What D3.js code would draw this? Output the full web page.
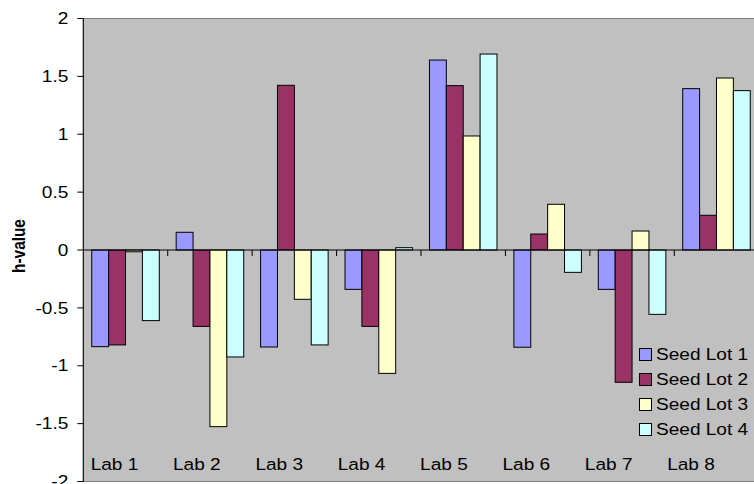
<!DOCTYPE html>
<html>
<head>
<meta charset="utf-8">
<script src="https://cdn.jsdelivr.net/npm/d3@7"></script>
<style>
  html, body { margin: 0; padding: 0; background: #fff; }
  svg { display: block; }
  text { font-family: 'Liberation Sans', Arial, sans-serif; fill: #000; }
</style>
</head>
<body>
<svg id="chart"></svg>
<script>
const labs = ['Lab 1', 'Lab 2', 'Lab 3', 'Lab 4', 'Lab 5', 'Lab 6', 'Lab 7', 'Lab 8']
const seriesNames = ['Seed Lot 1', 'Seed Lot 2', 'Seed Lot 3', 'Seed Lot 4']
const seedLot1 = [-0.835, 0.153, -0.838, -0.34, 1.641, -0.84, -0.34, 1.394]
const seedLot2 = [-0.82, -0.66, 1.423, -0.66, 1.42, 0.138, -1.143, 0.30]
const seedLot3 = [-0.015, -1.526, -0.426, -1.066, 0.985, 0.395, 0.164, 1.486]
const seedLot4 = [-0.61, -0.924, -0.82, 0.02, 1.693, -0.193, -0.556, 1.377]
const yTicks = [-2, -1.5, -1, -0.5, 0, 0.5, 1, 1.5, 2]
const colors = ['#9999FF', '#993366', '#FFFFCC', '#CCFFFF']

const W = 754, H = 484
const plot = { left: 83.3, right: 758.7, top: 18.5, bottom: 481.5 }
const stretch = 1.17   // the source picture was widened, text too
const fontSize = 16.3

const seriesValues = [seedLot1, seedLot2, seedLot3, seedLot4]
const rows = labs.map((lab, i) => ({
	lab,
	values: seriesNames.map((s, j) => ({ series: s, value: seriesValues[j][i], color: colors[j] }))
}))

const svg = d3.select('#chart').attr('width', W).attr('height', H)

const x0 = d3.scaleBand().domain(labs).range([plot.left, plot.right]).paddingInner(0).paddingOuter(0)
const x1 = d3.scaleBand().domain(seriesNames).range([0, x0.bandwidth()]).paddingInner(0).paddingOuter(0.5)
const y = d3.scaleLinear().domain([-2, 2]).range([plot.bottom, plot.top])
// the lab names are spread a little tighter than the groups
const xLabel = d3.scalePoint().domain(labs).range([114.5, 691])

// plot area
svg.append('rect')
	.attr('x', plot.left).attr('y', plot.top)
	.attr('width', plot.right - plot.left).attr('height', plot.bottom - plot.top)
	.attr('fill', '#C0C0C0')
	.attr('stroke', '#808080')
	.attr('stroke-width', 1)

// bars
const groups = svg.append('g').selectAll('g')
	.data(rows)
	.enter()
	.append('g')
	.attr('transform', d => `translate(${x0(d.lab)},0)`)

groups.selectAll('rect')
	.data(d => d.values)
	.enter()
	.append('rect')
	.attr('x', d => x1(d.series))
	.attr('y', d => y(Math.max(0, d.value)))
	.attr('width', x1.bandwidth())
	.attr('height', d => Math.abs(y(d.value) - y(0)))
	.attr('fill', d => d.color)
	.attr('stroke', '#000')
	.attr('stroke-width', 1)

// zero line with category ticks
svg.append('line')
	.attr('x1', plot.left).attr('x2', plot.right)
	.attr('y1', y(0)).attr('y2', y(0))
	.attr('stroke', '#000').attr('stroke-width', 1)

svg.append('g').selectAll('line')
	.data(labs.slice(1))
	.enter()
	.append('line')
	.attr('x1', d => x0(d)).attr('x2', d => x0(d))
	.attr('y1', y(0)).attr('y2', y(0) + 6)
	.attr('stroke', '#000').attr('stroke-width', 1)

// y axis
const yAxis = svg.append('g')
yAxis.append('line')
	.attr('x1', plot.left).attr('x2', plot.left)
	.attr('y1', plot.top).attr('y2', plot.bottom)
	.attr('stroke', '#000').attr('stroke-width', 1)

const ticks = yAxis.selectAll('g.tick')
	.data(yTicks)
	.enter()
	.append('g')
	.attr('class', 'tick')

ticks.append('line')
	.attr('x1', plot.left - 6).attr('x2', plot.left)
	.attr('y1', d => y(d)).attr('y2', d => y(d))
	.attr('stroke', '#000').attr('stroke-width', 1)

ticks.append('g')
	.attr('transform', d => `translate(${plot.left - 15},${y(d)}) scale(${stretch},1)`)
	.append('text')
	.attr('text-anchor', 'end')
	.attr('dy', '0.35em')
	.attr('font-size', fontSize)
	.text(d => d)

// y title
svg.append('g')
	.attr('transform', `translate(18.5,246) scale(${stretch},1) rotate(-90)`)
	.append('text')
	.attr('text-anchor', 'middle')
	.attr('dy', '0.35em')
	.attr('font-size', 15.4)
	.attr('font-weight', 'bold')
	.text('h-value')

// category labels, sitting inside the plot near the bottom
svg.append('g').selectAll('g')
	.data(labs)
	.enter()
	.append('g')
	.attr('transform', d => `translate(${xLabel(d)},470) scale(${stretch},1)`)
	.append('text')
	.attr('text-anchor', 'middle')
	.attr('font-size', fontSize)
	.text(d => d)

// legend
const legend = svg.append('g').attr('transform', 'translate(639.5,348.5)')
const item = legend.selectAll('g')
	.data(seriesNames)
	.enter()
	.append('g')
	.attr('transform', (d, i) => `translate(0,${i * 25})`)

item.append('rect')
	.attr('width', 12).attr('height', 12)
	.attr('fill', (d, i) => colors[i])
	.attr('stroke', '#000').attr('stroke-width', 1)

item.append('g')
	.attr('transform', `translate(16.5,6) scale(${stretch},1)`)
	.append('text')
	.attr('dy', '0.35em')
	.attr('font-size', fontSize)
	.text(d => d)
</script>
</body>
</html>
